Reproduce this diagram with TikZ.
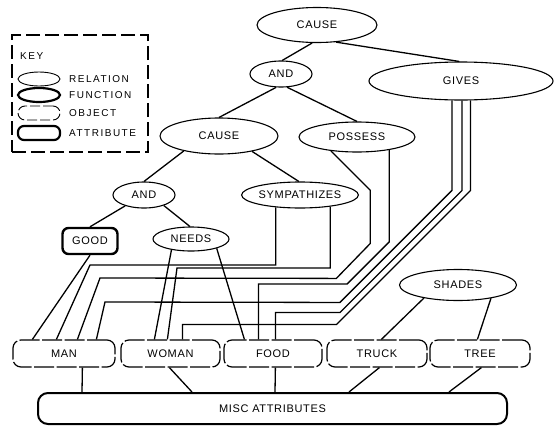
\documentclass[tikz,border=0pt]{standalone}
\usepackage{fontspec}
\setmainfont{Liberation Sans}
\newfontfamily\lblfont[LetterSpace=6]{Liberation Sans}
\newfontfamily\keyfont[LetterSpace=15]{Liberation Sans}
\usetikzlibrary{shapes.geometric}
\begin{document}
\begin{tikzpicture}[x=1pt,y=-1pt,
  rel/.style={ellipse,draw,line width=1.1pt,inner sep=0pt,font=\lblfont\fontsize{11}{13}\selectfont},
  obj/.style={rectangle,draw,rounded corners=8pt,line width=1.2pt,dash pattern=on 20pt off 2.5pt,
    minimum height=27pt,inner sep=0pt,font=\lblfont\fontsize{11}{13}\selectfont},
  attr/.style={rectangle,draw,rounded corners=6pt,line width=2.4pt,inner sep=0pt,font=\lblfont\fontsize{11}{13}\selectfont},
  wire/.style={line width=1.3pt},
  keysym/.style={minimum width=42pt,minimum height=14pt,inner sep=0pt,draw},
  keytxt/.style={anchor=west,inner sep=0pt,font=\keyfont\fontsize{10}{12}\selectfont},
]
\useasboundingbox (0,0) rectangle (555,426);

% key
\node[draw,dash pattern=on 14pt off 5pt,line width=1.2pt,minimum width=136pt,minimum height=117pt,inner sep=0pt] (keybox) at (80,93.5) {};
\node[keytxt] (keylbl) at (20,56) {KEY};
\node[keysym,ellipse,line width=0.9pt] (krel) at (39,79) {};
\node[keysym,ellipse,line width=2.2pt] (kfun) at (39,95) {};
\node[keysym,rectangle,rounded corners=7pt,line width=0.9pt,dash pattern=on 10pt off 3pt] (kobj) at (39,113) {};
\node[keysym,rectangle,rounded corners=6pt,line width=2.2pt] (kattr) at (39,133) {};
\node[keytxt] (trel) at (69,79) {RELATION};
\node[keytxt] (tfun) at (69,95) {FUNCTION};
\node[keytxt] (tobj) at (69,113) {OBJECT};
\node[keytxt] (tattr) at (69,133) {ATTRIBUTE};

% relations
\node[rel,minimum width=120pt,minimum height=35pt] (cause1) at (317,25) {CAUSE};
\node[rel,minimum width=62pt,minimum height=26pt] (and1) at (281,74) {AND};
\node[rel,minimum width=184pt,minimum height=38pt] (gives) at (461,81) {GIVES};
\node[rel,minimum width=118pt,minimum height=36pt] (cause2) at (219,136) {CAUSE};
\node[rel,minimum width=116pt,minimum height=30pt] (possess) at (357,137) {POSSESS};
\node[rel,minimum width=62pt,minimum height=26pt] (and2) at (144,195) {AND};
\node[rel,minimum width=106pt,minimum height=26pt] (symp) at (300,195) {SYMPATHIZES};
\node[attr,minimum width=55pt,minimum height=26pt] (good) at (90,241) {GOOD};
\node[rel,minimum width=76pt,minimum height=24pt] (needs) at (191,239) {NEEDS};
\node[rel,minimum width=117pt,minimum height=31pt] (shades) at (458,285) {SHADES};

% objects
\node[obj,minimum width=102pt] (man) at (64,353.5) {MAN};
\node[obj,minimum width=99pt] (woman) at (170.5,353.5) {WOMAN};
\node[obj,minimum width=98pt] (food) at (273,353.5) {FOOD};
\node[obj,minimum width=100pt] (truck) at (377,353.5) {TRUCK};
\node[obj,minimum width=100pt] (tree) at (480,353.5) {TREE};
\node[draw,line width=2pt,rounded corners=10pt,minimum width=469pt,minimum height=31pt,inner sep=0pt,
  font=\lblfont\fontsize{11}{13}\selectfont] (misc) at (272.5,408.5) {MISC ATTRIBUTES};

% tree connectors
\draw[wire] (cause1.-105) -- (and1.85);
\draw[wire] (cause1.-42) -- (gives.95);
\draw[wire] (and1.-110) -- (cause2.90);
\draw[wire] (and1.-65) -- (possess.90);
\draw[wire] (cause2.-157) -- (and2.90);
\draw[wire] (cause2.-25) -- (symp.95);
\draw[wire] (and2.-150) -- (good.north);
\draw[wire] (and2.-28) -- (needs.95);

% arguments
\draw[wire] (good.south) -- ([xshift=20pt]man.north west);
\draw[wire] (needs.-151) -- ([xshift=34pt]woman.north west);
\draw[wire] (needs.-20) -- ([xshift=21pt]food.north west);
\draw[wire] (symp.-153) |- (90,265) -- ([xshift=44pt]man.north west);
\draw[wire] (symp.-21) |- (177,268) -- ([xshift=47pt]woman.north west);
\draw[wire] (possess.-152) -- ++(39.5,39.5) -- ++(0,53) -- ++(-34,35) -- (100,278) -- ([xshift=65pt]man.north west);
\draw[wire] (possess.-22) -- ++(0,92) -- ++(-42,42) -| ([xshift=35pt]food.north west);
\draw[wire] (gives.-115) -- ++(0,90) -- ++(-112,112) -- (105,302) -- ([xshift=84pt]man.north west);
\draw[wire] (gives.-87) -- ++(0,90) -- ++(-122,122) -| ([xshift=52pt]food.north west);
\draw[wire] (gives.-64) -- ++(0,90) -- ++(-134,134) -| ([xshift=62pt]woman.north west);
\draw[wire] (shades.-159) -- ([xshift=55pt]truck.north west);
\draw[wire] (shades.-22) -- ([xshift=48pt]tree.north west);

% misc attributes
\draw[wire] ([xshift=70pt]man.south west) -- ([xshift=45pt]misc.north west);
\draw[wire] ([xshift=49pt]woman.south west) -- ([xshift=155pt]misc.north west);
\draw[wire] ([xshift=52pt]food.south west) -- ([xshift=238pt]misc.north west);
\draw[wire] ([xshift=53pt]truck.south west) -- ([xshift=312pt]misc.north west);
\draw[wire] ([xshift=52pt]tree.south west) -- ([xshift=412pt]misc.north west);
\end{tikzpicture}
\end{document}
